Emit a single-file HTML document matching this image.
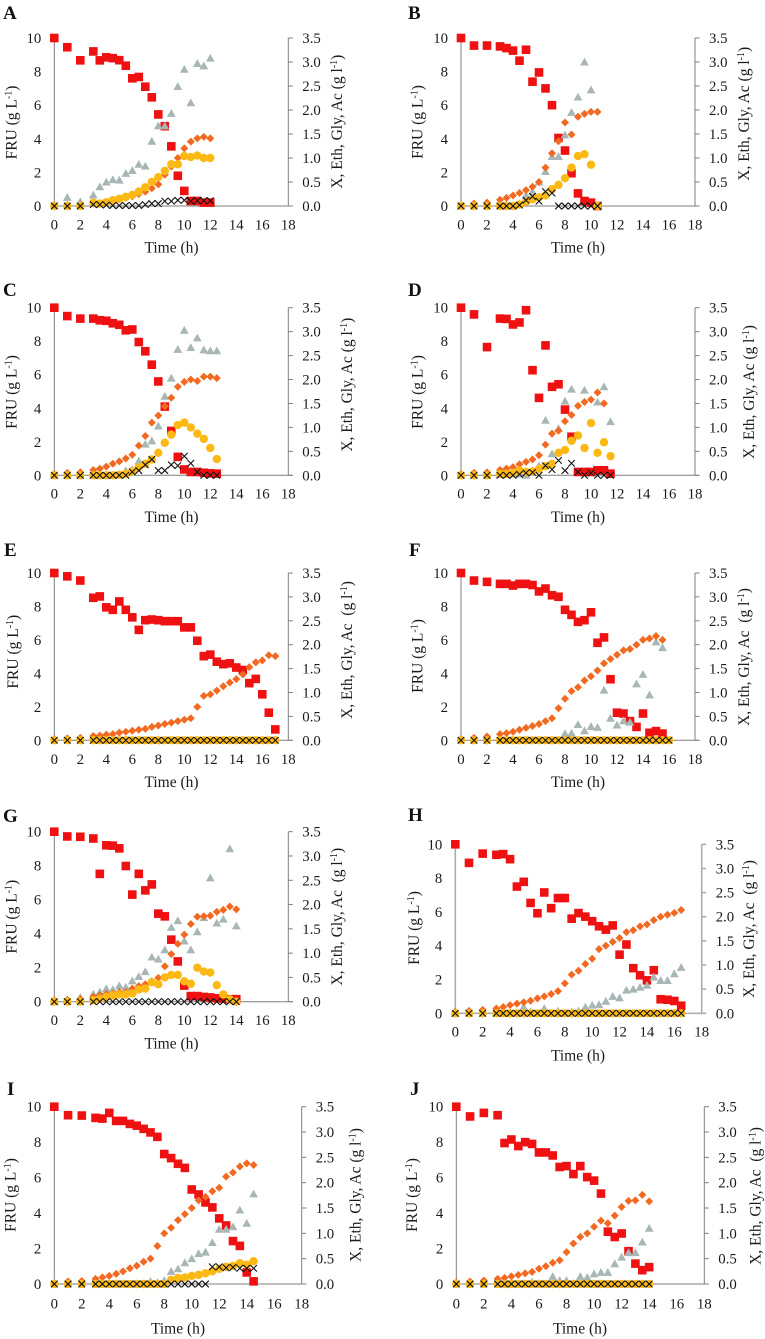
<!DOCTYPE html>
<html lang="en">
<head>
<meta charset="utf-8">
<title>Fermentation time courses, panels A to J</title>
<style>
html,body{margin:0;padding:0;background:#fff;}
#figure{display:block;width:765px;height:1339px;font-family:"Liberation Serif",serif;fill:#1a1a1a;}
.letter{font-size:19px;font-weight:bold;fill:#111;}
.title{font-size:15.5px;text-anchor:middle;}
.sup{font-size:10px;}
.tick{font-size:14.8px;}
</style>
</head>
<body>
<svg id="figure" xmlns="http://www.w3.org/2000/svg" width="765" height="1339" viewBox="0 0 765 1339">
<g id="panel-a">
<text class="letter" x="3" y="19">A</text>
<text class="title" x="171.5" y="252.7">Time (h)</text>
<text class="title" transform="translate(16.5,122.5) rotate(-90)">FRU (g L<tspan class="sup" dy="-5">-1</tspan><tspan dy="5">)</tspan></text>
<text class="title" transform="translate(342,121.7) rotate(-90)">X, Eth, Gly, Ac (g l<tspan class="sup" dy="-5">-1</tspan><tspan dy="5">)</tspan></text>
</g>
<g id="panel-b">
<text class="letter" x="408" y="19">B</text>
<text class="title" x="578" y="252.7">Time (h)</text>
<text class="title" transform="translate(422.5,122) rotate(-90)">FRU (g L<tspan class="sup" dy="-5">-1</tspan><tspan dy="5">)</tspan></text>
<text class="title" transform="translate(749,113.8) rotate(-90)">X, Eth, Gly, Ac (g l<tspan class="sup" dy="-5">-1</tspan><tspan dy="5">)</tspan></text>
</g>
<g id="panel-c">
<text class="letter" x="3" y="296">C</text>
<text class="title" x="171.5" y="522">Time (h)</text>
<text class="title" transform="translate(16.5,392) rotate(-90)">FRU (g L<tspan class="sup" dy="-5">-1</tspan><tspan dy="5">)</tspan></text>
<text class="title" transform="translate(352,384.7) rotate(-90)">X, Eth, Gly, Ac (g l<tspan class="sup" dy="-5">-1</tspan><tspan dy="5">)</tspan></text>
</g>
<g id="panel-d">
<text class="letter" x="408" y="296">D</text>
<text class="title" x="578" y="522">Time (h)</text>
<text class="title" transform="translate(422.5,392) rotate(-90)">FRU (g L<tspan class="sup" dy="-5">-1</tspan><tspan dy="5">)</tspan></text>
<text class="title" transform="translate(754,392) rotate(-90)">X, Eth, Gly, Ac (g l<tspan class="sup" dy="-5">-1</tspan><tspan dy="5">)</tspan></text>
</g>
<g id="panel-e">
<text class="letter" x="4" y="556">E</text>
<text class="title" x="171.5" y="787">Time (h)</text>
<text class="title" transform="translate(18,651.7) rotate(-90)">FRU (g L<tspan class="sup" dy="-5">-1</tspan><tspan dy="5">)</tspan></text>
<text class="title" transform="translate(352,650) rotate(-90)">X, Eth, Gly, Ac&#160; (g l<tspan class="sup" dy="-5">-1</tspan><tspan dy="5">)</tspan></text>
</g>
<g id="panel-f">
<text class="letter" x="409" y="556">F</text>
<text class="title" x="578" y="787">Time (h)</text>
<text class="title" transform="translate(422.5,656) rotate(-90)">FRU (g L<tspan class="sup" dy="-5">-1</tspan><tspan dy="5">)</tspan></text>
<text class="title" transform="translate(749,657) rotate(-90)">X, Eth, Gly, Ac&#160; (g l<tspan class="sup" dy="-5">-1</tspan><tspan dy="5">)</tspan></text>
</g>
<g id="panel-g">
<text class="letter" x="3" y="822">G</text>
<text class="title" x="171.5" y="1048.7">Time (h)</text>
<text class="title" transform="translate(16.5,916.7) rotate(-90)">FRU (g L<tspan class="sup" dy="-5">-1</tspan><tspan dy="5">)</tspan></text>
<text class="title" transform="translate(342,916.7) rotate(-90)">X, Eth, Gly, Ac&#160; (g l<tspan class="sup" dy="-5">-1</tspan><tspan dy="5">)</tspan></text>
</g>
<g id="panel-h">
<text class="letter" x="408" y="821">H</text>
<text class="title" x="578" y="1060.7">Time (h)</text>
<text class="title" transform="translate(419,928) rotate(-90)">FRU (g L<tspan class="sup" dy="-5">-1</tspan><tspan dy="5">)</tspan></text>
<text class="title" transform="translate(754,929) rotate(-90)">X, Eth, Gly, Ac&#160; (g l<tspan class="sup" dy="-5">-1</tspan><tspan dy="5">)</tspan></text>
</g>
<g id="panel-i">
<text class="letter" x="7" y="1095">I</text>
<text class="title" x="178" y="1333.3">Time (h)</text>
<text class="title" transform="translate(15.7,1195) rotate(-90)">FRU (g L<tspan class="sup" dy="-5">-1</tspan><tspan dy="5">)</tspan></text>
<text class="title" transform="translate(360.7,1195) rotate(-90)">X, Eth, Gly, Ac (g l<tspan class="sup" dy="-5">-1</tspan><tspan dy="5">)</tspan></text>
</g>
<g id="panel-j">
<text class="letter" x="410" y="1095">J</text>
<text class="title" x="580" y="1333.3">Time (h)</text>
<text class="title" transform="translate(417,1195) rotate(-90)">FRU (g L<tspan class="sup" dy="-5">-1</tspan><tspan dy="5">)</tspan></text>
<text class="title" transform="translate(760.7,1196) rotate(-90)">X, Eth, Gly, Ac&#160; (g l<tspan class="sup" dy="-5">-1</tspan><tspan dy="5">)</tspan></text>
</g>
</svg>
<script>
const times=[0,1,2,3,3.5,4,4.5,5,5.5,6,6.5,7,7.5,8,8.5,9,9.5,10,10.5,11,11.5,12,12.5,13,13.5,14,14.5,15,15.5,16,16.5,17];
const xTickLabels=["0","2","4","6","8","10","12","14","16","18"];
const leftTickLabels=["0","2","4","6","8","10"];
const rightTickLabels=["0.0","0.5","1.0","1.5","2.0","2.5","3.0","3.5"];

const fruA=[10,9.45,8.67,9.2,8.67,8.85,8.8,8.68,8.35,7.6,7.68,7.1,6.47,5.45,4.75,3.55,1.8,.9,.3,.3,.2,.2];
const grayA=[null,.18,.09,.23,.4,.5,.55,.54,.68,.74,.87,.83,1.35,1.67,1.67,1.93,2.49,2.85,2.15,2.97,2.92,3.08];
const orangeA=[.01,.02,.02,.05,.06,.08,.11,.14,.17,.2,.25,.3,.37,.45,.65,.82,1,1.2,1.34,1.41,1.44,1.41];
const yellowA=[0,0,0,.07,.05,.08,.12,.15,.19,.23,.3,.39,.5,.6,.73,.87,.87,1.04,1.02,1.05,1,1];
const crossA=[0,0,0,.03,.03,.02,.01,.01,.01,.01,.01,.03,.05,.05,.1,.1,.12,.12,.1,.11,.11,.11];

const fruB=[10,9.55,9.55,9.5,9.4,9.25,8.65,9.3,7.4,7.95,7,6,4.05,3.3,1.95,.75,.3,.2,0];
const grayB=[0,.03,.07,.05,.03,0,.05,.22,.3,.5,.72,1.03,1.03,1.48,1.95,2.27,3,2.42,null];
const orangeB=[.01,.05,.07,.13,.17,.22,.27,.33,.4,.5,.8,1.1,1.35,1.74,1.49,1.86,1.92,1.96,1.96];
const yellowB=[0,0,0,0,0,0,.03,.09,.14,.18,.22,.35,.44,.58,.8,1.04,1.08,.86,0];
const crossB=[0,0,0,0,0,0,.02,.12,.2,.1,.3,.27,0,0,0,0,0,0,0];

const fruC=[10,9.5,9.35,9.35,9.25,9.22,9.07,8.98,8.65,8.7,7.95,7.4,6.6,5.6,4.1,2.65,1.1,.35,.2,.2,.15,.12,.1];
const grayC=[0,0,0,0,0,0,0,.02,.1,.12,.3,.65,.72,1.03,1.65,2.03,2.63,3.03,2.67,2.87,2.62,2.6,2.6];
const orangeC=[.03,.05,.06,.11,.14,.18,.24,.29,.35,.43,.62,.82,1.1,1.25,1.44,1.62,1.85,1.95,2,1.97,2.06,2.06,2.03];
const yellowC=[0,0,0,0,0,0,0,.01,.03,.08,.17,.24,.33,.47,.68,.85,1.05,1.1,1,.87,.76,.57,.34];
const crossC=[0,0,0,0,0,0,0,0,0,.07,.1,.22,.33,.1,.1,.22,.2,.4,.25,.07,0,0,0];

const fruD=[10,9.6,7.65,9.35,9.33,9,9.12,9.85,6.27,4.62,7.75,5.28,5.43,3.92,2.3,.2,.2,.2,.3,.3,.1];
const grayD=[0,0,0,.02,.03,.03,.03,0,.1,.2,1.15,.45,.98,1.55,1.8,null,1.78,null,1.53,1.85,1.12];
const orangeD=[.03,.05,.06,.11,.14,.17,.23,.28,.33,.42,.64,.87,.93,1.13,1.26,1.45,1.53,1.58,1.73,1.5,null];
const yellowD=[0,0,0,.03,.03,.05,.1,.07,.08,.13,.19,.24,.47,.53,.72,.83,.57,1.09,.47,.69,.4];
const crossD=[0,0,0,0,0,0,.02,.05,.06,0,.2,.12,.31,.1,.25,.07,0,.05,0,0,0];

const fruE=[10,9.8,9.55,8.52,8.6,7.95,7.8,8.3,7.8,7.35,6.6,7.18,7.22,7.18,7.12,7.12,7.12,6.75,6.75,5.95,5.03,5.12,4.7,4.55,4.6,4.35,4.2,3.42,3.67,2.75,1.65,.65];
const grayE=[];
const orangeE=[.03,.04,.05,.09,.1,.12,.13,.16,.18,.2,.22,.24,.28,.31,.34,.37,.4,.43,.46,.7,.93,.96,1.04,1.13,1.21,1.28,1.38,1.53,1.63,1.67,1.78,1.76];
const yellowE=[0,0,0,0,0,0,0,0,0,0,0,0,0,0,0,0,0,0,0,0,0,0,0,0,0,0,0,0,0,0,0,0];
const crossE=[0,0,0,0,0,0,0,0,0,0,0,0,0,0,0,0,0,0,0,0,0,0,0,0,0,0,0,0,0,0,0,0];

const fruF=[10,9.55,9.47,9.35,9.35,9.25,9.35,9.35,9.28,8.9,9.07,8.67,8.58,7.8,7.5,7.08,7.18,7.65,5.83,6.15,3.65,1.65,1.6,1.15,.8,1.6,.45,.55,.4];
const grayF=[null,null,null,null,null,null,null,null,null,null,null,null,null,.14,.15,.33,.2,.29,.27,1.05,.46,.32,.41,.38,1.18,1.38,.95,2.06,1.94];
const orangeF=[.03,.05,.08,.13,.15,.18,.22,.26,.3,.34,.4,.46,.67,.87,1.03,1.11,1.25,1.34,1.46,1.61,1.7,1.79,1.88,1.91,2,2.1,2.13,2.18,2.1];
const yellowF=[0,0,0,0,0,0,0,0,0,0,0,0,0,0,0,0,0,0,0,0,0,0,0,0,0,0,0,0,0,0];
const crossF=[0,0,0,0,0,0,0,0,0,0,0,0,0,0,0,0,0,0,0,0,0,0,0,0,0,0,0,0,0,0];

const fruG=[10,9.72,9.7,9.6,7.52,9.2,9.18,9.02,7.98,6.3,7.52,6.55,6.9,5.18,5.02,3.65,2.37,.95,.33,.33,.28,.25,.2,.18,.15,.15];
const grayG=[0,.03,.09,.16,.2,.27,.25,.33,.3,.43,.52,.62,.92,.88,1.07,1.53,1.67,1.25,1.07,1.44,1.73,2.55,1.62,1.7,3.15,1.56];
const orangeG=[.03,.04,.05,.1,.13,.16,.17,.2,.2,.27,.32,.36,.42,.49,.73,.98,1.19,1.38,1.6,1.75,1.76,1.77,1.85,1.89,1.96,1.9];
const yellowG=[0,0,0,.03,.06,.1,.13,.15,.15,.17,.25,.27,.4,.36,.5,.55,.55,.42,.37,.7,.62,.6,.34,.15,.05,0];
const crossG=[0,0,0,0,0,0,0,0,0,0,0,0,0,0,0,0,0,0,0,0,0,0,0,0,0,0];

const fruH=[10,8.9,9.45,9.38,9.42,9.12,7.5,7.78,6.53,5.92,7.15,6.22,6.82,6.82,5.6,5.93,5.72,5.45,5.15,4.95,5.2,3.47,4.07,2.67,2.25,1.95,2.55,.83,.8,.73,.45];
const grayH=[0,.03,.05,0,0,0,0,.13,.03,0,.1,0,.05,0,.03,.05,.13,.17,.18,.25,.35,.32,.48,.5,.54,.58,.75,.68,.68,.82,.95];
const orangeH=[.03,.05,.07,.1,.13,.17,.2,.23,.26,.31,.35,.4,.46,.62,.8,.88,1.02,1.13,1.33,1.4,1.48,1.56,1.68,1.72,1.8,1.84,1.93,2,2.04,2.08,2.14];
const yellowH=[0,0,0,0,0,0,0,0,0,0,0,0,0,0,0,0,0,0,0,0,0,0,0,0,0,0,0,0,0,0,0];
const crossH=[0,0,0,0,0,0,0,0,0,0,0,0,0,0,0,0,0,0,0,0,0,0,0,0,0,0,0,0,0,0,0];

const fruI=[10,9.52,9.5,9.37,9.33,9.65,9.2,9.2,9.03,8.93,8.75,8.55,8.3,7.33,7.1,6.78,6.55,5.33,5.05,4.6,4.32,3.7,3.3,2.42,2.15,.65,.15];
const grayI=[null,null,null,null,null,null,null,null,null,null,null,.05,.03,.07,.25,.3,.42,.5,.6,.63,.82,1.08,1.08,1.13,1.46,1.2,1.78];
const orangeI=[.01,.05,.06,.1,.13,.16,.2,.25,.31,.36,.44,.5,.75,1,1.11,1.26,1.38,1.5,1.65,1.72,1.83,1.9,2.12,2.2,2.32,2.38,2.35];
const yellowI=[0,0,0,0,0,0,0,0,0,0,0,0,0,0,.08,.12,.13,.16,.18,.21,.25,.3,.34,.36,.41,.38,.45];
const crossI=[0,0,0,0,0,0,0,0,0,0,0,0,0,0,0,0,0,0,0,0,.34,.34,.32,.33,.31,.31,.31];

const fruJ=[10,9.45,9.65,9.52,7.95,8.15,7.78,8,7.9,7.42,7.42,7.25,6.6,6.65,6.2,6.65,6.03,5.83,5.1,2.95,2.65,2.85,1.85,1.15,.78,.95];
const grayJ=[null,null,null,null,null,null,null,null,.04,null,null,.15,.07,.07,null,.15,.13,.2,.23,.23,.4,.53,.62,.62,.83,1.1];
const orangeJ=[.03,.05,.07,.1,.12,.15,.18,.21,.24,.3,.35,.42,.47,.63,.8,.93,1,1.13,1.25,1.2,1.35,1.52,1.64,1.65,1.76,1.63];
const yellowJ=[0,0,0,0,0,0,0,0,0,0,0,0,0,0,0,0,0,0,0,0,0,0,0,0,0,0];
const crossJ=[0,0,0,0,0,0,0,0,0,0,0,0,0,0,0,0,0,0,0,0,0,0,0,0,0,0];

const NS="http://www.w3.org/2000/svg";
const X_MAX=18,LEFT_MAX=10,RIGHT_MAX=3.5;

const panels=[
{id:"a",fru:fruA,gray:grayA,orange:orangeA,yellow:yellowA,cross:crossA,x0:54.3,x1:288.3,yTop:38,yBot:206,tickBase:229.5,axisW:1,axisC:"#7f7f7f"},
{id:"b",fru:fruB,gray:grayB,orange:orangeB,yellow:yellowB,cross:crossB,x0:461,x1:695,yTop:38,yBot:206,tickBase:229.5,axisW:1,axisC:"#7f7f7f"},
{id:"c",fru:fruC,gray:grayC,orange:orangeC,yellow:yellowC,cross:crossC,x0:54.3,x1:288.3,yTop:307.7,yBot:475.3,tickBase:498.5,axisW:1,axisC:"#7f7f7f"},
{id:"d",fru:fruD,gray:grayD,orange:orangeD,yellow:yellowD,cross:crossD,x0:461,x1:695,yTop:307.7,yBot:475.3,tickBase:498.5,axisW:1,axisC:"#7f7f7f"},
{id:"e",fru:fruE,gray:grayE,orange:orangeE,yellow:yellowE,cross:crossE,x0:54.3,x1:288.3,yTop:573,yBot:740.3,tickBase:764,axisW:1,axisC:"#7f7f7f"},
{id:"f",fru:fruF,gray:grayF,orange:orangeF,yellow:yellowF,cross:crossF,x0:461,x1:695,yTop:573,yBot:740.3,tickBase:764,axisW:1,axisC:"#7f7f7f"},
{id:"g",fru:fruG,gray:grayG,orange:orangeG,yellow:yellowG,cross:crossG,x0:54.3,x1:288.3,yTop:831.7,yBot:1001.7,tickBase:1025,axisW:1,axisC:"#7f7f7f"},
{id:"h",fru:fruH,gray:grayH,orange:orangeH,yellow:yellowH,cross:crossH,x0:455.3,x1:701.7,yTop:844.3,yBot:1013.3,tickBase:1036.7,axisW:1.6,axisC:"#aeaeae"},
{id:"i",fru:fruI,gray:grayI,orange:orangeI,yellow:yellowI,cross:crossI,x0:54.3,x1:301.7,yTop:1106.7,yBot:1284,tickBase:1308.7,axisW:1,axisC:"#7f7f7f"},
{id:"j",fru:fruJ,gray:grayJ,orange:orangeJ,yellow:yellowJ,cross:crossJ,x0:456.3,x1:704.3,yTop:1106.7,yBot:1284,tickBase:1308.7,axisW:1,axisC:"#7f7f7f"}
];

function mk(tag,attrs,parent){
  const el=document.createElementNS(NS,tag);
  for(const k in attrs){el.setAttribute(k,attrs[k]);}
  parent.appendChild(el);
  return el;
}
function scaleX(p,t){return p.x0+(t/X_MAX)*(p.x1-p.x0);}
function scaleLeft(p,v){return p.yBot-(v/LEFT_MAX)*(p.yBot-p.yTop);}
function scaleRight(p,v){return p.yBot-(v/RIGHT_MAX)*(p.yBot-p.yTop);}

function drawAxes(p,g){
  const style={stroke:p.axisC,"stroke-width":p.axisW,fill:"none"};
  const left=mk("line",Object.assign({x1:p.x0,x2:p.x0,y1:p.yTop,y2:p.yBot},style),g);
  
  
  const right=mk("line",Object.assign({x1:p.x1,x2:p.x1,y1:p.yTop,y2:p.yBot},style),g);
  
  
  const bottom=mk("line",Object.assign({x1:p.x0,x2:p.x1+4.5,y1:p.yBot,y2:p.yBot},style),g);
  
  
  rightTickLabels.forEach(function(label){
    const y=scaleRight(p,parseFloat(label));
    const tk=mk("line",Object.assign({x1:p.x1,x2:p.x1+4.5,y1:y,y2:y},style),g);
    
    
    const tx=mk("text",{class:"tick",x:p.x1+14,y:y+5},g);
    tx.textContent=label;
    
    
  });
  leftTickLabels.forEach(function(label){
    const tx=mk("text",{class:"tick",x:p.x0-13,y:scaleLeft(p,parseFloat(label))+5,"text-anchor":"end"},g);
    tx.textContent=label;
    
    
  });
  xTickLabels.forEach(function(label){
    const tx=mk("text",{class:"tick",x:scaleX(p,parseFloat(label)),y:p.tickBase,"text-anchor":"middle"},g);
    tx.textContent=label;
    
    
  });
}

function drawSquare(p,g,t,v){
  const cx=scaleX(p,t),cy=scaleLeft(p,v),h=4.3;
  const m=mk("rect",{x:cx-h,y:cy-h,width:h*2,height:h*2,fill:"#ef1111"},g);
  
  
}
function drawTriangle(p,g,t,v){
  const cx=scaleX(p,t),cy=scaleRight(p,v);
  const pts=[[cx,cy-4.3],[cx+4.4,cy+3.5],[cx-4.4,cy+3.5]].map(function(q){return q.join(",");}).join(" ");
  const m=mk("polygon",{points:pts,fill:"#a8b6b6"},g);
  
  
}
function drawDiamond(p,g,t,v){
  const cx=scaleX(p,t),cy=scaleRight(p,v),h=4;
  const pts=[[cx,cy-h],[cx+h,cy],[cx,cy+h],[cx-h,cy]].map(function(q){return q.join(",");}).join(" ");
  const m=mk("polygon",{points:pts,fill:"#f26a21"},g);
  
  
}
function drawCircle(p,g,t,v){
  const m=mk("circle",{cx:scaleX(p,t),cy:scaleRight(p,v),r:4.2,fill:"#fdb913"},g);
  
  
}
function drawCross(p,g,t,v){
  const cx=scaleX(p,t),cy=scaleRight(p,v),h=3.3;
  const d="M"+(cx-h)+" "+(cy-h)+"L"+(cx+h)+" "+(cy+h)+"M"+(cx-h)+" "+(cy+h)+"L"+(cx+h)+" "+(cy-h);
  const m=mk("path",{d:d,stroke:"#111",fill:"none","stroke-width":1.1},g);
  
  
}

function drawSeries(p,g,values,drawFn){
  values.forEach(function(v,i){
    if(v===null||v===undefined)return;
    drawFn(p,g,times[i],v);
  });
}

panels.forEach(function(p){
  const g=document.getElementById("panel-"+p.id);
  drawAxes(p,g);
  drawSeries(p,g,p.fru,drawSquare);
  drawSeries(p,g,p.gray,drawTriangle);
  drawSeries(p,g,p.orange,drawDiamond);
  drawSeries(p,g,p.yellow,drawCircle);
  drawSeries(p,g,p.cross,drawCross);
});
</script>
</body>
</html>
